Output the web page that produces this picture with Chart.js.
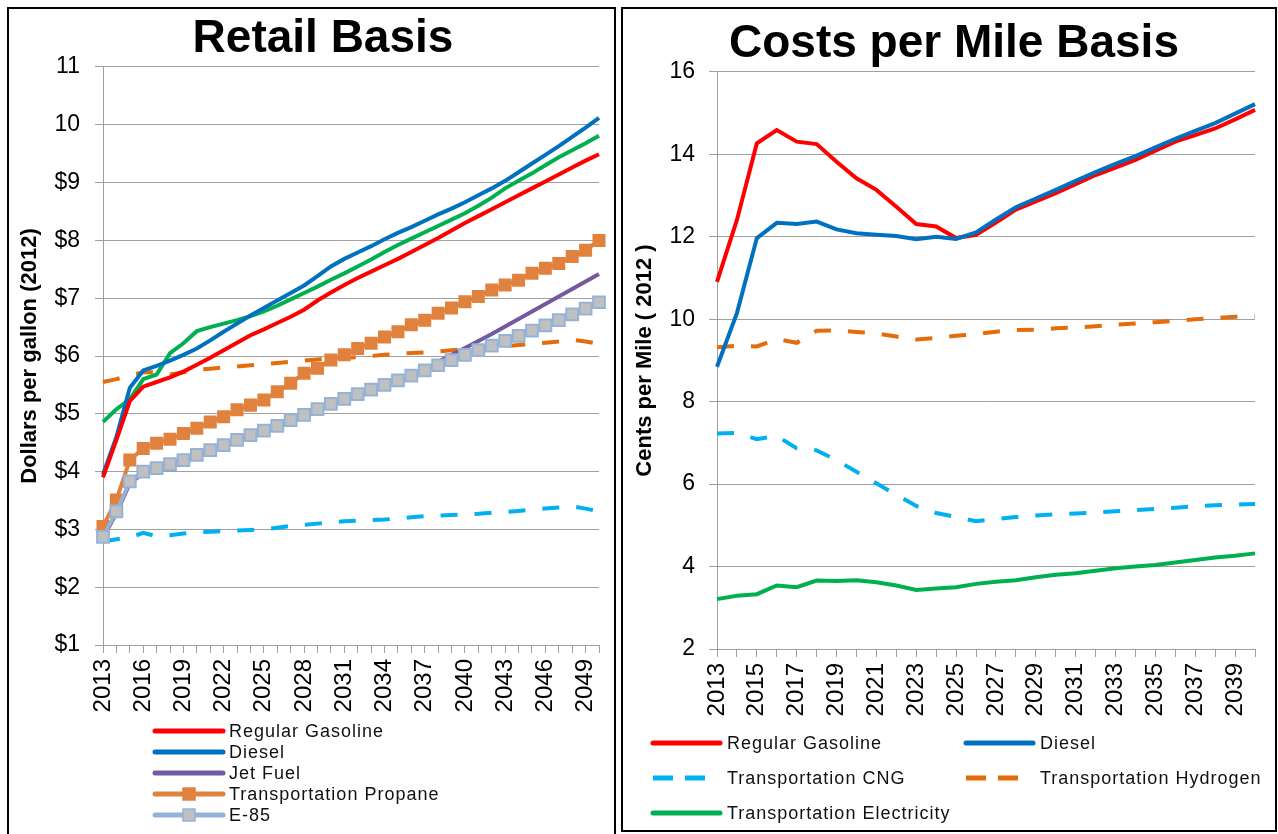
<!DOCTYPE html>
<html>
<head>
<meta charset="utf-8">
<script src="https://cdn.jsdelivr.net/npm/chart.js@4.4.1/dist/chart.umd.min.js"></script>
<style>
  body { margin: 0; background: #fff; width: 1278px; height: 834px; overflow: hidden; position: relative; }
  .box { position: absolute; border: 2px solid #000; box-sizing: border-box; overflow: hidden; }
  #leftBox { left: 7px; top: 7px; width: 609px; height: 900px; }
  #rightBox { left: 621px; top: 7px; width: 656px; height: 825px; }
  .wrap { position: absolute; left: 0; top: 0; }
</style>
</head>
<body>
<div class="box" id="leftBox"><div class="wrap" style="width:605px;height:825px"><canvas id="retail"></canvas></div></div>
<div class="box" id="rightBox"><div class="wrap" style="width:652px;height:821px"><canvas id="perMile"></canvas></div></div>
<script>
// --- retail basis, dollars per gallon (2012) ---
const retailYears = ['2013','2014','2015','2016','2017','2018','2019','2020','2021','2022','2023','2024','2025',
  '2026','2027','2028','2029','2030','2031','2032','2033','2034','2035','2036','2037','2038','2039','2040',
  '2041','2042','2043','2044','2045','2046','2047','2048','2049','2050'];
const retailYearLabels = ['2013','2016','2019','2022','2025','2028','2031','2034','2037','2040','2043','2046','2049'];
const retailTicks = [1, 2, 3, 4, 5, 6, 7, 8, 9, 10, 11];

const gasRetail = [3.9, 4.55, 5.22, 5.47, 5.55, 5.63, 5.73, 5.85, 5.97, 6.1, 6.23, 6.36, 6.46, 6.57, 6.68, 6.8, 6.96, 7.1, 7.23,
  7.35, 7.46, 7.57, 7.68, 7.8, 7.92, 8.04, 8.17, 8.3, 8.42, 8.54, 8.66, 8.78, 8.9, 9.02, 9.14, 9.26, 9.38, 9.49];
const dieselRetail = [3.95, 4.6, 5.45, 5.75, 5.83, 5.92, 6.02, 6.13, 6.27, 6.42, 6.56, 6.7, 6.83, 6.96, 7.09, 7.22, 7.38, 7.55, 7.68,
  7.79, 7.9, 8.02, 8.13, 8.23, 8.34, 8.45, 8.55, 8.66, 8.78, 8.9, 9.03, 9.18, 9.33, 9.48, 9.63, 9.79, 9.95, 10.12];
const jetRetail = [2.85, 3.28, 3.8, 3.97, 4.03, 4.1, 4.17, 4.26, 4.34, 4.43, 4.52, 4.6, 4.68, 4.76, 4.86, 4.95, 5.05, 5.14, 5.23,
  5.31, 5.39, 5.47, 5.56, 5.65, 5.76, 5.9, 6.02, 6.14, 6.26, 6.38, 6.51, 6.64, 6.77, 6.9, 7.03, 7.16, 7.29, 7.42];
const propaneRetail = [3.05, 3.51, 4.2, 4.4, 4.49, 4.56, 4.66, 4.75, 4.86, 4.95, 5.07, 5.15, 5.24, 5.38, 5.53, 5.7, 5.79, 5.93, 6.02,
  6.13, 6.22, 6.33, 6.42, 6.54, 6.62, 6.74, 6.83, 6.94, 7.03, 7.14, 7.23, 7.31, 7.43, 7.52, 7.6, 7.72, 7.83, 8.0];
const e85Retail = [2.87, 3.31, 3.83, 4.0, 4.06, 4.13, 4.2, 4.29, 4.37, 4.46, 4.55, 4.63, 4.71, 4.79, 4.89, 4.98, 5.08, 5.17, 5.26,
  5.34, 5.42, 5.5, 5.58, 5.66, 5.75, 5.84, 5.93, 6.02, 6.1, 6.18, 6.26, 6.35, 6.44, 6.53, 6.62, 6.72, 6.82, 6.93];
const elecRetail = [4.86, 5.08, 5.25, 5.6, 5.68, 6.05, 6.22, 6.43, 6.5, 6.56, 6.62, 6.69, 6.77, 6.87, 6.98, 7.09, 7.2, 7.32, 7.43,
  7.55, 7.67, 7.8, 7.92, 8.03, 8.14, 8.25, 8.36, 8.47, 8.6, 8.74, 8.9, 9.03, 9.16, 9.3, 9.44, 9.56, 9.68, 9.81];
const cngRetail = [2.79, 2.83, 2.86, 2.94, 2.88, 2.9, 2.93, 2.95, 2.96, 2.97, 2.98, 2.99, 3.0, 3.03, 3.06, 3.08, 3.1, 3.12, 3.14,
  3.15, 3.16, 3.17, 3.19, 3.21, 3.23, 3.24, 3.25, 3.26, 3.27, 3.29, 3.3, 3.32, 3.34, 3.36, 3.38, 3.4, 3.36, 3.31];
const h2Retail = [5.55, 5.6, 5.66, 5.72, 5.72, 5.68, 5.72, 5.76, 5.78, 5.8, 5.82, 5.84, 5.86, 5.88, 5.9, 5.92, 5.94, 5.96, 5.97,
  5.98, 6.0, 6.02, 6.04, 6.05, 6.06, 6.08, 6.1, 6.12, 6.13, 6.15, 6.17, 6.19, 6.21, 6.23, 6.25, 6.28, 6.25, 6.21];

// --- costs per mile, cents per mile (2012) ---
const mileYears = ['2013','2014','2015','2016','2017','2018','2019','2020','2021','2022','2023','2024','2025',
  '2026','2027','2028','2029','2030','2031','2032','2033','2034','2035','2036','2037','2038','2039','2040'];
const mileYearLabels = ['2013','2015','2017','2019','2021','2023','2025','2027','2029','2031','2033','2035','2037','2039'];
const mileTicks = [2, 4, 6, 8, 10, 12, 14, 16];

const gasMile = [10.91, 12.41, 14.27, 14.59, 14.31, 14.25, 13.82, 13.42, 13.14, 12.73, 12.31, 12.25, 11.97, 12.05,
  12.35, 12.66, 12.86, 13.06, 13.28, 13.5, 13.68, 13.87, 14.09, 14.31, 14.47, 14.63, 14.85, 15.08];
const dieselMile = [8.85, 10.15, 11.97, 12.34, 12.31, 12.37, 12.18, 12.09, 12.05, 12.02, 11.94, 12.0, 11.95, 12.11,
  12.42, 12.72, 12.93, 13.14, 13.36, 13.57, 13.77, 13.96, 14.17, 14.38, 14.57, 14.76, 14.99, 15.22];
const cngMile = [7.23, 7.24, 7.09, 7.17, 6.87, 6.82, 6.58, 6.3, 6.02, 5.74, 5.47, 5.3, 5.2, 5.1,
  5.15, 5.2, 5.24, 5.27, 5.29, 5.31, 5.34, 5.37, 5.4, 5.43, 5.46, 5.49, 5.5, 5.52];
const h2Mile = [9.32, 9.36, 9.34, 9.52, 9.43, 9.72, 9.73, 9.69, 9.66, 9.58, 9.51, 9.55, 9.6, 9.64,
  9.7, 9.74, 9.75, 9.78, 9.8, 9.83, 9.87, 9.9, 9.93, 9.96, 10.0, 10.03, 10.06, 10.07];
const elecMile = [3.21, 3.29, 3.33, 3.54, 3.5, 3.66, 3.65, 3.67, 3.62, 3.54, 3.43, 3.47, 3.5, 3.58,
  3.63, 3.67, 3.74, 3.8, 3.84, 3.9, 3.96, 4.0, 4.04, 4.1, 4.16, 4.22, 4.26, 4.32];

const FONT = '"Liberation Sans", Arial, sans-serif';
const RED = '#ff0000', BLUE = '#0070c0', GREEN = '#00b050', PURPLE = '#7458a0';
const ORANGE = '#e46c0a', PROPANE = '#e0823d', CNG = '#00b0f0', E85LINE = '#95b3d7';
const GRID = '#a0a0a0';

Chart.defaults.color = '#000';
Chart.defaults.font.family = FONT;

// legend drawn as rows/columns like the spreadsheet legend
const boxLegend = {
  id: 'boxLegend',
  afterDraw(chart, args, opts) {
    const ctx = chart.ctx;
    ctx.save();
    ctx.font = '18px ' + FONT;
    ctx.letterSpacing = '1px';
    ctx.textBaseline = 'middle';
    opts.items.forEach(function (idx, k) {
      const ds = chart.data.datasets[idx];
      const col = k % opts.cols, row = Math.floor(k / opts.cols);
      const x = opts.x + col * opts.colW, y = opts.y + row * opts.rowH;
      ctx.strokeStyle = ds.borderColor;
      ctx.lineWidth = 5;
      if (ds.borderDash) {
        ctx.lineCap = 'butt';
        ctx.setLineDash([20, 12]);
        ctx.beginPath(); ctx.moveTo(x, y); ctx.lineTo(x + 52, y); ctx.stroke();
      } else {
        ctx.lineCap = 'round';
        ctx.setLineDash([]);
        ctx.beginPath(); ctx.moveTo(x, y); ctx.lineTo(x + opts.len, y); ctx.stroke();
      }
      ctx.setLineDash([]);
      if (ds.pointRadius > 0) {
        ctx.fillStyle = ds.pointBackgroundColor;
        ctx.fillRect(x + opts.len / 2 - 6, y - 6, 12, 12);
        ctx.lineWidth = 1.5;
        ctx.strokeStyle = ds.pointBorderColor;
        ctx.strokeRect(x + opts.len / 2 - 6, y - 6, 12, 12);
      }
      ctx.fillStyle = '#111';
      ctx.fillText(ds.label, x + opts.textGap, y + 1);
    });
    ctx.restore();
  }
};

function line(label, data, color, extra) {
  return Object.assign({
    label: label, data: data, borderColor: color, backgroundColor: color,
    borderWidth: 4, pointRadius: 0, tension: 0, fill: false
  }, extra || {});
}

function makeOptions(o) {
  return {
    responsive: true,
    maintainAspectRatio: false,
    animation: false,
    layout: { padding: { left: o.padL, right: o.padR, top: 0, bottom: o.padB } },
    plugins: {
      legend: { display: false },
      tooltip: { enabled: false },
      title: {
        display: true, text: o.title, color: '#000',
        font: { size: 46, weight: 'bold', family: FONT },
        padding: { top: o.titleTop, bottom: 0 }
      },
      boxLegend: o.legend
    },
    scales: {
      x: {
        offset: false,
        grid: { display: true, drawOnChartArea: false, drawTicks: true, tickLength: 8, color: GRID },
        border: { display: true, color: GRID },
        ticks: {
          autoSkip: false, minRotation: 90, maxRotation: 90, padding: 6,
          font: { size: 24, family: FONT }, color: '#000',
          callback: function (v) {
            const lab = this.getLabelForValue(v);
            return o.xLabels.indexOf(lab) >= 0 ? lab : '';
          }
        },
        afterFit: function (s) { s.height = 80; s.paddingLeft = 0; s.paddingRight = 0; }
      },
      y: {
        min: o.yTicks[0], max: o.yTicks[o.yTicks.length - 1],
        grid: { color: GRID, tickLength: 8 },
        border: { display: true, color: GRID },
        ticks: {
          stepSize: o.yTicks[1] - o.yTicks[0], padding: o.yPad,
          font: { size: 23, family: FONT }, color: '#000',
          callback: o.yFmt
        },
        title: {
          display: true, text: o.yTitle, color: '#000',
          font: { size: 22, weight: 'bold', family: FONT },
          padding: { top: o.yTitlePad, bottom: 0 }
        },
        afterFit: function (s) { s.width = o.yWidth; }
      }
    }
  };
}

new Chart(document.getElementById('retail'), {
  type: 'line',
  data: {
    labels: retailYears,
    datasets: [
      line('Regular Gasoline', gasRetail, RED, { order: 3 }),
      line('Diesel', dieselRetail, BLUE, { order: 4 }),
      line('Jet Fuel', jetRetail, PURPLE, { order: 6 }),
      line('Transportation Propane', propaneRetail, PROPANE, {
        order: 2, pointRadius: 9.2, pointStyle: 'rect', pointBackgroundColor: PROPANE,
        pointBorderColor: PROPANE, pointBorderWidth: 0
      }),
      line('E-85', e85Retail, E85LINE, {
        order: 1, pointRadius: 8.3, pointStyle: 'rect', pointBackgroundColor: '#c0c0c0',
        pointBorderColor: E85LINE, pointBorderWidth: 2
      }),
      line('Transportation Electricity', elecRetail, GREEN, { order: 5 }),
      line('Transportation CNG', cngRetail, CNG, { order: 8, borderDash: [17, 17] }),
      line('Transportation Hydrogen', h2Retail, ORANGE, { order: 7, borderDash: [17, 17] })
    ]
  },
  options: makeOptions({
    title: 'Retail Basis', padL: 38, padR: 15, padB: 109, titleTop: 2.8,
    xLabels: retailYearLabels, yTicks: retailTicks, yPad: 15, yWidth: 56,
    yFmt: function (v) { return v >= 10 ? String(v) : '$' + v; },
    yTitle: 'Dollars per gallon (2012)', yTitlePad: -30,
    legend: { items: [0, 1, 2, 3, 4], cols: 1, x: 146, y: 722, colW: 0, rowH: 21, len: 68, textGap: 74 }
  }),
  plugins: [boxLegend]
});

new Chart(document.getElementById('perMile'), {
  type: 'line',
  data: {
    labels: mileYears,
    datasets: [
      line('Regular Gasoline', gasMile, RED, { order: 2 }),
      line('Diesel', dieselMile, BLUE, { order: 1 }),
      line('Transportation CNG', cngMile, CNG, { order: 3, borderDash: [17, 17] }),
      line('Transportation Hydrogen', h2Mile, ORANGE, { order: 4, borderDash: [17, 17] }),
      line('Transportation Electricity', elecMile, GREEN, { order: 5 })
    ]
  },
  options: makeOptions({
    title: 'Costs per Mile Basis', padL: 30, padR: 20, padB: 101, titleTop: 7.8,
    xLabels: mileYearLabels, yTicks: mileTicks, yPad: 14, yWidth: 64,
    yFmt: function (v) { return String(v); },
    yTitle: 'Cents per Mile ( 2012 )', yTitlePad: -21,
    legend: { items: [0, 1, 2, 3, 4], cols: 2, x: 30, y: 734, colW: 313, rowH: 35, len: 67, textGap: 74 }
  }),
  plugins: [boxLegend]
});
</script>
</body>
</html>
